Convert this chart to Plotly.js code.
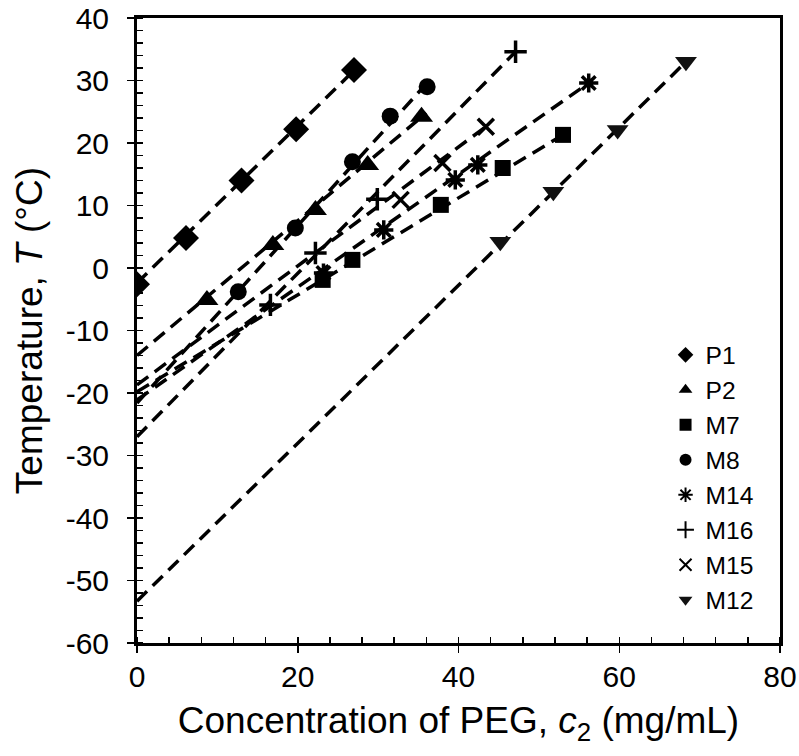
<!DOCTYPE html>
<html>
<head>
<meta charset="utf-8">
<script src="https://cdn.plot.ly/plotly-3.0.1.min.js"></script>
<style>html,body{margin:0;padding:0;background:#fff;}#chart{width:799px;height:756px;}</style>
</head>
<body>
<div id="chart"></div>
<script>
// Series names (legend order)
const seriesNames = ["P1", "P2", "M7", "M8", "M14", "M16", "M15", "M12"];

// Data points (c2 in mg/mL, T in °C)
const p1X  = [0, 6.1, 13.0, 19.8, 27.0];
const p1Y  = [-2.6, 4.8, 14.0, 22.2, 31.7];
const p2X  = [8.7, 16.9, 22.2, 28.7, 35.4];
const p2Y  = [-5.1, 3.7, 9.3, 16.5, 24.2];
const m7X  = [23.1, 26.8, 37.8, 45.5, 53.0];
const m7Y  = [-1.9, 1.3, 10.1, 16.0, 21.3];
const m8X  = [12.6, 19.7, 26.8, 31.5, 36.1];
const m8Y  = [-3.8, 6.4, 17.0, 24.3, 29.0];
const m14X = [23.2, 30.7, 39.6, 42.4, 56.2];
const m14Y = [-0.8, 6.1, 14.1, 16.5, 29.6];
const m16X = [16.6, 22.2, 29.9, 47.1];
const m16Y = [-5.9, 2.4, 11.0, 34.6];
const m15X = [32.8, 38.0, 43.4];
const m15Y = [10.9, 16.8, 22.6];
const m12X = [45.2, 51.8, 59.8, 68.3];
const m12Y = [4.2, 12.2, 22.1, 33.0];

// Dashed fit lines: [start, end] endpoints
const p1FitX  = [0, 27.0];  const p1FitY  = [-2.4, 31.6];
const p2FitX  = [0, 36.0];  const p2FitY  = [-14.0, 24.8];
const m7FitX  = [0, 53.0];  const m7FitY  = [-19.8, 21.3];
const m8FitX  = [0, 36.3];  const m8FitY  = [-21.6, 29.9];
const m14FitX = [0, 56.2];  const m14FitY = [-21.1, 29.6];
const m16FitX = [0, 47.1];  const m16FitY = [-27.0, 34.6];
const m15FitX = [0, 43.4];  const m15FitY = [-18.7, 22.6];
const m12FitX = [0, 68.3];  const m12FitY = [-53.3, 33.0];

// Axis ticks
const xTickVals = [0, 20, 40, 60, 80];
const yTickVals = [-60, -50, -40, -30, -20, -10, 0, 10, 20, 30, 40];

const pts = [
  [p1X, p1Y], [p2X, p2Y], [m7X, m7Y], [m8X, m8Y],
  [m14X, m14Y], [m16X, m16Y], [m15X, m15Y], [m12X, m12Y]
];
const fits = [
  [p1FitX, p1FitY], [p2FitX, p2FitY], [m7FitX, m7FitY], [m8FitX, m8FitY],
  [m14FitX, m14FitY], [m16FitX, m16FitY], [m15FitX, m15FitY], [m12FitX, m12FitY]
];
const markerStyles = [
  {symbol: "diamond", size: 20, color: "#000"},
  {symbol: "triangle-up", size: 20, color: "#000"},
  {symbol: "square", size: 16, color: "#000"},
  {symbol: "circle", size: 17, color: "#000"},
  {symbol: "asterisk-open", size: 16, color: "#000", line: {color: "#000", width: 3.5}},
  {symbol: "cross-thin-open", size: 16, color: "#000", line: {color: "#000", width: 3.5}},
  {symbol: "x-thin-open", size: 16, color: "#000", line: {color: "#000", width: 3.5}},
  {symbol: "triangle-down", size: 19, color: "#111"}
];

const traces = [];
fits.forEach((f, i) => {
  traces.push({
    x: f[0], y: f[1], type: "scatter", mode: "lines",
    line: {color: "#000", width: 3.5, dash: "14px,8px"},
    showlegend: false, hoverinfo: "skip"
  });
});
pts.forEach((p, i) => {
  traces.push({
    x: p[0], y: p[1], type: "scatter", mode: "markers",
    name: seriesNames[i],
    marker: markerStyles[i]
  });
});

const fontFam = "Liberation Sans, Arial, sans-serif";
const layout = {
  width: 799, height: 756,
  margin: {l: 137, r: 19, t: 18, b: 113},
  paper_bgcolor: "#fff", plot_bgcolor: "#fff",
  font: {family: fontFam, color: "#000", size: 24},
  showlegend: true,
  legend: {
    x: 0.822, y: 0.497, xanchor: "left", yanchor: "top",
    bgcolor: "rgba(0,0,0,0)", borderwidth: 0,
    font: {family: fontFam, size: 24.6, color: "#000"},
    itemwidth: 30, itemsizing: "constant"
  },
  xaxis: {
    range: [0, 80], tickvals: xTickVals, ticktext: xTickVals.map(String),
    showgrid: false, zeroline: false,
    showline: true, linecolor: "#000", linewidth: 3, mirror: true,
    ticks: "outside", ticklen: 7, tickwidth: 1.5, tickcolor: "#000",
    minor: {dtick: 4, tick0: 0, ticks: "inside", ticklen: 6, tickwidth: 1.5, tickcolor: "#000", showgrid: false},
    tickfont: {size: 30, family: fontFam},
    ticklabelstandoff: -2,
    title: {text: "Concentration of PEG, <i>c</i><sub>2</sub> (mg/mL)", font: {size: 37, family: fontFam}, standoff: 16}
  },
  yaxis: {
    range: [-60, 40], tickvals: yTickVals, ticktext: yTickVals.map(String),
    showgrid: false, zeroline: false,
    showline: true, linecolor: "#000", linewidth: 3, mirror: true,
    ticks: "outside", ticklen: 7, tickwidth: 1.5, tickcolor: "#000",
    minor: {dtick: 2, tick0: 0, ticks: "inside", ticklen: 6, tickwidth: 1.5, tickcolor: "#000", showgrid: false},
    tickfont: {size: 30, family: fontFam},
    ticklabelstandoff: 12,
    title: {text: "Temperature, <i>T</i> (°C)", font: {size: 37, family: fontFam}, standoff: 12}
  }
};

Plotly.newPlot("chart", traces, layout, {displayModeBar: false, staticPlot: true});
</script>
</body>
</html>
